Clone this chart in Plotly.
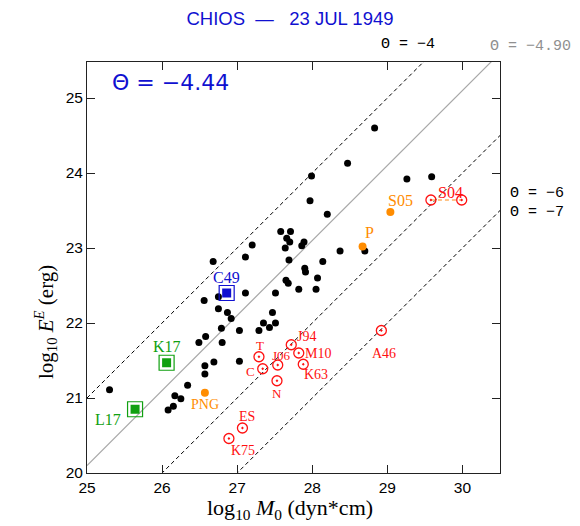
import plotly.graph_objects as go

# ---------------- data ----------------
blk_m0 = [25.30, 26.08, 26.15, 26.17, 26.25, 26.34, 26.57, 26.57, 26.69, 26.49,
          26.58, 26.79, 26.80, 27.03, 27.03, 27.29, 27.35, 27.43, 27.51,
          27.47, 26.87, 26.92, 26.75, 26.56, 26.75, 27.11, 27.51, 27.82, 28.05,
          27.65, 27.68, 28.07, 27.90, 27.91, 27.69, 28.14, 27.11, 26.68, 27.20,
          27.64, 27.66, 27.70, 27.89, 27.86, 27.58, 27.71, 28.37, 28.70, 28.20,
          27.97, 27.99, 28.47, 28.83, 29.26, 29.59]
blk_e = [21.11, 20.84, 20.89, 21.03, 20.99, 21.17, 21.43, 21.32, 21.48, 21.74,
         21.82, 21.93, 21.74, 21.49, 21.90, 21.90, 22.00, 21.94, 22.00,
         22.14, 22.14, 22.06, 22.19, 22.30, 22.35, 22.40, 22.40, 22.45, 22.45,
         22.57, 22.53, 22.60, 22.73, 22.68, 22.84, 22.82, 22.88, 22.82, 23.04,
         23.00, 23.13, 23.08, 23.08, 23.03, 23.22, 23.22, 22.96, 22.96, 23.45,
         23.63, 23.96, 24.13, 24.60, 23.92, 23.95]

red_names = ["T", "C", "J06", "N", "J94", "M10", "K63", "A46", "ES", "K75", "S04", "S04b"]
red_m0 = [27.29, 27.34, 27.54, 27.53, 27.72, 27.82, 27.88, 28.92, 27.07, 26.89, 29.58, 29.99]
red_e = [21.55, 21.39, 21.44, 21.23, 21.71, 21.60, 21.45, 21.90, 20.60, 20.46, 23.64, 23.64]

org_names = ["PNG", "P", "S05"]
org_m0 = [26.57, 28.67, 29.04]
org_e = [21.07, 23.02, 23.48]

grn_names = ["K17", "L17"]
grn_m0 = [26.06, 25.64]
grn_e = [21.47, 20.85]

blu_names = ["C49"]
blu_m0 = [26.86]
blu_e = [22.40]

theta_lines = [-4.0, -6.0, -7.0]
theta_event = -4.90
theta_mean = -4.44

x_range = [25.0, 30.5]
y_range = [20.0, 25.48]
x_ticks = [25, 26, 27, 28, 29, 30]
y_ticks = [20, 21, 22, 23, 24, 25]

# ---------------- styling ----------------
RED = "#ff1010"
ORG = "#ff8c00"
GRN = "#10a010"
BLU = "#1010d0"
SERIF = "Liberation Serif"
MONO = "Liberation Mono"

OFF = 8  # page body margin
W, H = 572, 518
ML, MR, MT, MB = 79, 80, 54, 53
PW, PH = W - ML - MR, H - MT - MB


def px(xp, yp):
    """screen pixel -> paper coords"""
    return (xp - OFF - ML) / PW, (H - MB - (yp - OFF)) / PH


fig = go.Figure()

# Theta lines
for th in theta_lines:
    fig.add_trace(go.Scatter(x=x_range, y=[x_range[0] + th, x_range[1] + th], mode="lines",
                             line=dict(color="black", width=1, dash="4px,3px"),
                             hoverinfo="skip", showlegend=False))
fig.add_trace(go.Scatter(x=x_range, y=[x_range[0] + theta_event, x_range[1] + theta_event],
                         mode="lines", line=dict(color="#a8a8a8", width=1.2),
                         hoverinfo="skip", showlegend=False))

# S04 connecting dashed line
fig.add_trace(go.Scatter(x=red_m0[10:12], y=red_e[10:12], mode="lines",
                         line=dict(color="#ffb060", width=1.5, dash="4px,3px"),
                         hoverinfo="skip", showlegend=False))

# black dots
fig.add_trace(go.Scatter(x=blk_m0, y=blk_e, mode="markers",
                         marker=dict(color="black", size=7, line=dict(width=0)),
                         showlegend=False))

# red bullseye
fig.add_trace(go.Scatter(x=red_m0, y=red_e, mode="markers",
                         marker=dict(symbol="circle-open-dot", color=RED, size=10,
                                     line=dict(width=1.3, color=RED)),
                         showlegend=False))

# orange
fig.add_trace(go.Scatter(x=org_m0, y=org_e, mode="markers",
                         marker=dict(color=ORG, size=8, line=dict(width=0)),
                         showlegend=False))

# squares
for xs, ys, col in [(grn_m0, grn_e, GRN), (blu_m0, blu_e, BLU)]:
    fig.add_trace(go.Scatter(x=xs, y=ys, mode="markers",
                             marker=dict(symbol="square-open", color=col, size=15,
                                         line=dict(width=1.2, color=col)),
                             showlegend=False))
    fig.add_trace(go.Scatter(x=xs, y=ys, mode="markers",
                             marker=dict(symbol="square", color=col, size=9, line=dict(width=0)),
                             showlegend=False))

# label offsets (pixels): dx, dy, font size
offs = {
    "T": (1, 11, 13), "C": (-12, -3, 13), "J06": (4, 10, 13), "N": (0, -13, 13),
    "J94": (15, 8, 14), "M10": (19, 0, 14), "K63": (13, -10, 14), "A46": (3, -23, 14),
    "ES": (5, 12, 14), "K75": (14, -12, 14), "S04b": (-11, 8, 16),
    "PNG": (0, -12, 14), "P": (7, 14, 16), "S05": (10, 12, 16),
    "K17": (0, 16, 16), "L17": (-27, -10, 16), "C49": (0, 16, 16),
}
ann = []


def add_labels(names, xs, ys, col):
    for n, x, y in zip(names, xs, ys):
        if n not in offs:
            continue
        dx, dy, fs = offs[n]
        text = "S04" if n == "S04b" else n
        ann.append(dict(x=x, y=y, xref="x", yref="y", text=text, showarrow=False,
                        xshift=dx, yshift=dy, font=dict(family=SERIF, size=fs, color=col)))


add_labels(red_names, red_m0, red_e, RED)
add_labels(org_names, org_m0, org_e, ORG)
add_labels(grn_names, grn_m0, grn_e, GRN)
add_labels(blu_names, blu_m0, blu_e, BLU)


def th_txt(v, nd=None):
    s = ("%.2f" % abs(v)) if nd else ("%g" % abs(v))
    return "\u0398 = \u2212" + s


for txt, xp, yp, col in [(th_txt(theta_lines[0]), 408, 44, "black"),
                         (th_txt(theta_event, 2), 530, 46, "#909090"),
                         (th_txt(theta_lines[1]), 537, 193, "black"),
                         (th_txt(theta_lines[2]), 537, 212, "black")]:
    xx, yy = px(xp, yp)
    ann.append(dict(x=xx, y=yy, xref="paper", yref="paper", text=txt, showarrow=False,
                    xanchor="center", yanchor="middle",
                    font=dict(family=MONO, size=15, color=col)))

xx, yy = px(170, 82)
ann.append(dict(x=xx, y=yy, xref="paper", yref="paper",
                text=th_txt(theta_mean, 2).replace(" ", "\u00a0"), showarrow=False,
                xanchor="center", yanchor="middle",
                font=dict(family="DejaVu Sans", size=22, color=BLU)))

# axis titles as annotations (positioned like the reference)
xx, yy = px(290, 509)
ann.append(dict(x=xx, y=yy, xref="paper", yref="paper", showarrow=False,
                text="log<sub>10</sub> <i>M</i><sub>0</sub> (dyn*cm)",
                xanchor="center", yanchor="middle",
                font=dict(family=SERIF, size=22, color="black")))
xx, yy = px(45, 322)
ann.append(dict(x=xx, y=yy, xref="paper", yref="paper", showarrow=False, textangle=-90,
                text="log<sub>10</sub> <i>E</i><sup><i>E</i></sup> (erg)",
                xanchor="center", yanchor="middle",
                font=dict(family=SERIF, size=21, color="black")))

fig.update_layout(
    width=W, height=H,
    margin=dict(l=ML, r=MR, t=MT, b=MB),
    paper_bgcolor="white", plot_bgcolor="white",
    title=dict(text="CHIOS\u00a0\u00a0\u2014\u00a0\u00a0\u00a023 JUL 1949",
               x=(290 - OFF) / W, xanchor="center", xref="container",
               y=1 - (19 - OFF) / H, yanchor="middle", yref="container",
               font=dict(family="Liberation Sans", size=18.5, color=BLU)),
    annotations=ann,
    showlegend=False,
)

axis_common = dict(showgrid=False, zeroline=False, showline=True, linecolor="#222222",
                   linewidth=1, mirror="ticks", ticks="inside", ticklen=8,
                   tickcolor="#222222", tickwidth=1,
                   tickfont=dict(family="Liberation Sans", size=15.5, color="black"))
fig.update_xaxes(range=x_range, tickvals=x_ticks, ticktext=[str(t) for t in x_ticks],
                 **axis_common)
fig.update_yaxes(range=y_range, tickvals=y_ticks, ticktext=[str(t) for t in y_ticks],
                 **axis_common)

fig.write_html("out.html")
